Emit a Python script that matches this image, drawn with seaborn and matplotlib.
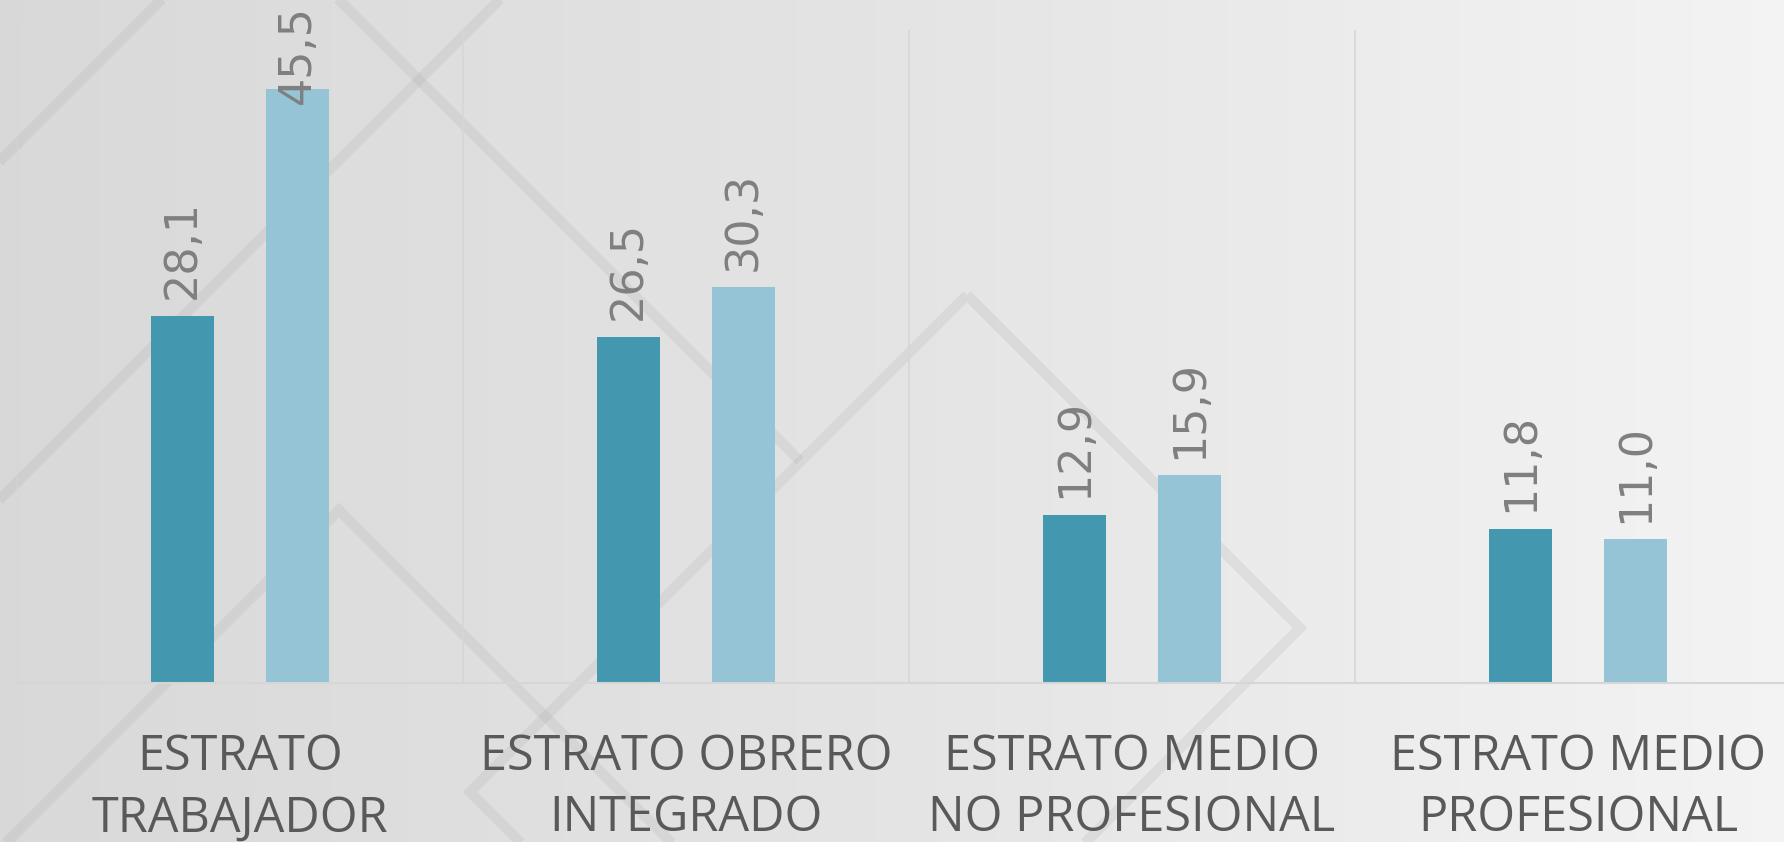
import numpy as np
import pandas as pd
import matplotlib
matplotlib.use("Agg")
import matplotlib.pyplot as plt
import seaborn as sns

# ---------------- data ----------------
categories = ["ESTRATO\nTRABAJADOR", "ESTRATO OBRERO\nINTEGRADO",
              "ESTRATO MEDIO\nNO PROFESIONAL", "ESTRATO MEDIO\nPROFESIONAL"]
series_names = ["Serie 1", "Serie 2"]
serie_1 = [28.1, 26.5, 12.9, 11.8]
serie_2 = [45.5, 30.3, 15.9, 11.0]

colors = ["#4398b0", "#94c4d6"]

df = pd.DataFrame({
    "categoria": categories * 2,
    "serie": [series_names[0]] * len(categories) + [series_names[1]] * len(categories),
    "valor": serie_1 + serie_2,
})

W, H, DPI = 1784, 842, 100
sns.set_theme(style="white")
fig = plt.figure(figsize=(W / DPI, H / DPI), dpi=DPI)

# ---------------- background ----------------
bg = fig.add_axes([0, 0, 1, 1], zorder=0)
xs = np.linspace(0, 1, 400)
g = np.interp(xs, [0, 0.5, 1], [0.85, 0.895, 0.955])
grad = np.tile(g, (10, 1))
bg.imshow(np.dstack([grad, grad, grad]), extent=[0, W, H, 0], aspect="auto",
          interpolation="bicubic")
deco = [
    [(967, 295), (1300, 628), (803, 1125), (470, 792), (967, 295)],
    [(-40, 889), (339, 510), (720, 891)],
    [(-20, 181), (181, -20)],
    [(319, -20), (800, 461)],
    [(519, -20), (-20, 519)],
]
for seg in deco:
    px, py = zip(*seg)
    bg.plot(px, py, color="#9a9a9a", alpha=0.15, lw=7.5, solid_joinstyle="miter",
            solid_capstyle="butt")
bg.set_xlim(0, W)
bg.set_ylim(H, 0)
bg.axis("off")

# ---------------- main axes ----------------
ax = fig.add_axes([17 / W, 159 / H, 1784 / W, 653 / H], zorder=1)
ax.patch.set_alpha(0)
sns.barplot(data=df, x="categoria", y="valor", hue="serie", palette=colors,
            width=0.516, gap=0.46, saturation=1, legend=False, ax=ax,
            linewidth=0, edgecolor="none")
ax.set_ylim(0, 50)
ax.set_xlim(-0.5, len(categories) - 0.5)
ax.set_xlabel("")
ax.set_ylabel("")
ax.set_yticks([])
for s in ["top", "right", "left"]:
    ax.spines[s].set_visible(False)
ax.spines["bottom"].set_color("#d6d6d6")
ax.spines["bottom"].set_linewidth(1.5)

# vertical separators between categories
ax.set_xticks(np.arange(-0.5, len(categories), 1.0), minor=True)
ax.grid(False)
ax.grid(True, which="minor", axis="x", color="#d6d6d6", lw=1.2)
ax.tick_params(axis="x", which="both", length=0)
ax.set_xticks(range(len(categories)))
ax.set_xticklabels(categories, fontsize=35, color="#595959", family="Open Sans",
                   linespacing=1.3, multialignment="center")
ax.tick_params(axis="x", pad=36)

# value labels
texts = []
for cont in ax.containers:
    labels = [f"{b.get_height():.1f}".replace(".", ",") for b in cont]
    ts = ax.bar_label(cont, labels=labels, padding=12, rotation=90,
                      fontsize=32, color="#7f7f7f", family="DejaVu Sans")
    texts.extend(ts)

fig.canvas.draw()
limit = H - 5
for t in texts:
    bb = t.get_window_extent()
    if bb.y1 > limit:
        dx, dy = t.xyann
        t.xyann = (dx, dy - (bb.y1 - limit) * 72 / DPI)

fig.savefig("out.png", dpi=DPI)
